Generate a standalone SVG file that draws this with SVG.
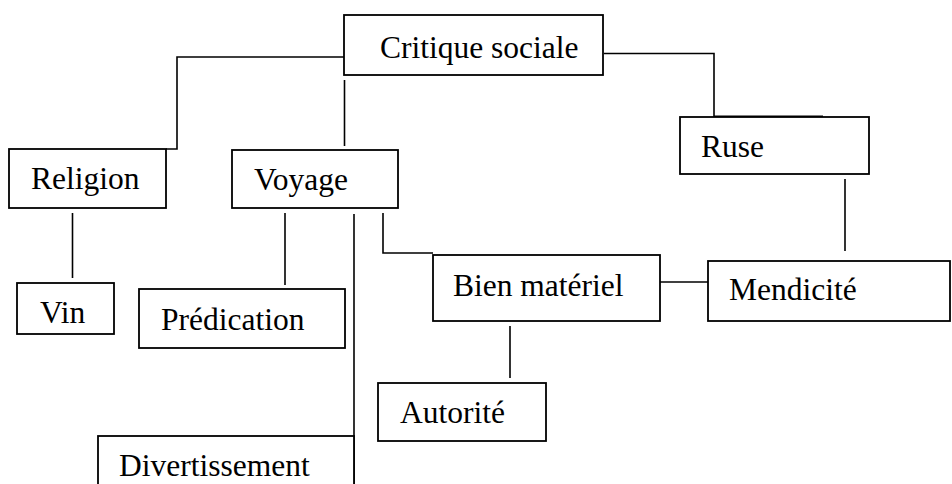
<svg xmlns="http://www.w3.org/2000/svg" width="952" height="484" viewBox="0 0 952 484">
<style>
.box{fill:#fff;stroke:#000;stroke-width:1.8}
.lbl{font-family:"Liberation Serif","Times New Roman",serif;font-size:31.5px;fill:#000}
.ln{fill:none;stroke:#000;stroke-width:1.6}
</style>
<rect width="952" height="484" fill="#fff"/>
<g id="connectors">
<path class="ln" d="M344,57 H177 V149 H166"/>
<path class="ln" d="M344.5,80 V146"/>
<path class="ln" d="M604,53.5 H714 V117"/>
<path d="M714,117 H823" stroke="#000" stroke-width="3.2" fill="none"/>
<path class="ln" d="M72.5,213 V278"/>
<path class="ln" d="M285,213 V285"/>
<path class="ln" d="M354,214 V484"/>
<path class="ln" d="M383,213 V253 H433"/>
<path class="ln" d="M660,282 H708"/>
<path class="ln" d="M845,179 V251"/>
<path class="ln" d="M510,326 V378"/>
</g>
<g id="critique"><rect class="box" x="344" y="15" width="259" height="60"/><text class="lbl" x="380" y="58">Critique sociale</text></g>
<g id="religion"><rect class="box" x="9" y="149" width="157" height="59"/><text class="lbl" x="31" y="189">Religion</text></g>
<g id="voyage"><rect class="box" x="232" y="150" width="166" height="58"/><text class="lbl" x="254" y="190">Voyage</text></g>
<g id="ruse"><rect class="box" x="680" y="117" width="189" height="57"/><text class="lbl" x="701" y="157">Ruse</text></g>
<g id="vin"><rect class="box" x="17" y="283" width="97" height="51"/><text class="lbl" x="40" y="323">Vin</text></g>
<g id="predication"><rect class="box" x="139" y="289" width="206" height="59"/><text class="lbl" x="161" y="330">Prédication</text></g>
<g id="bien"><rect class="box" x="433" y="255" width="227" height="66"/><text class="lbl" x="453" y="296">Bien matériel</text></g>
<g id="mendicite"><rect class="box" x="708" y="261" width="242" height="60"/><text class="lbl" x="729" y="300">Mendicité</text></g>
<g id="autorite"><rect class="box" x="378" y="383" width="168" height="58"/><text class="lbl" x="400" y="423">Autorité</text></g>
<g id="divertissement"><rect class="box" x="98" y="436" width="256" height="60"/><text class="lbl" x="119" y="476">Divertissement</text></g>
</svg>
